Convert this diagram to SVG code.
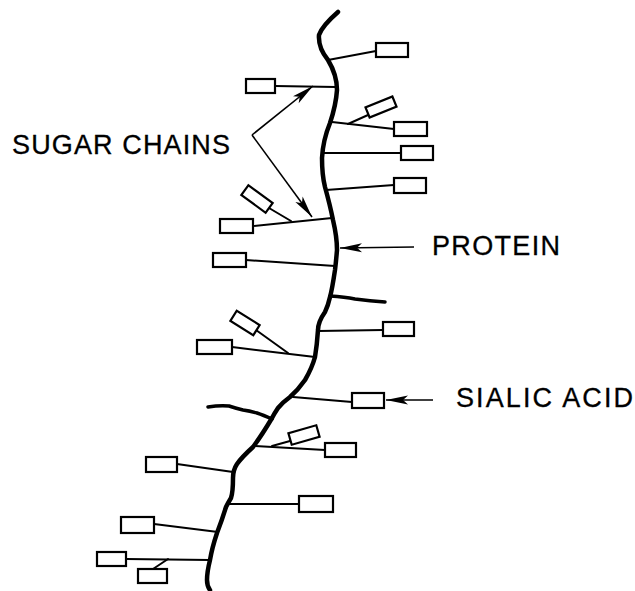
<svg xmlns="http://www.w3.org/2000/svg" width="635" height="591" viewBox="0 0 635 591">
<style>
.bb{fill:none;stroke:#000;stroke-width:4.5;stroke-linejoin:round;stroke-linecap:round}
.stub{fill:none;stroke:#000;stroke-width:3.5;stroke-linejoin:round;stroke-linecap:round}
.br{fill:none;stroke:#000;stroke-width:2;stroke-linecap:round}
.box{fill:#fff;stroke:#000;stroke-width:2.2}
.arr{fill:none;stroke:#000;stroke-width:1.6}
.lbl{font-family:"Liberation Sans",Arial,sans-serif;font-size:27px;fill:#000;stroke:#000;stroke-width:0.3}
</style>
<defs>
<marker id="ah" viewBox="-24 -6 26 12" markerWidth="26" markerHeight="12" refX="0" refY="0" markerUnits="userSpaceOnUse" orient="auto">
<path d="M0,0 L-22,-4.5 L-17,0 L-22,4.5 Z" fill="#000"/>
</marker>
</defs>
<rect width="635" height="591" fill="#fff"/>
<g id="protein">
<path class="bb" d="M338,12 Q322,26 319,35 Q318,48 328,60 Q337,75 337,90 Q336,105 330,123 Q323,140 322,158 Q322,175 325,187 Q330,205 333,220 Q337,237 337,250 Q336,262 335,270 Q332,290 330,297 Q328,306 325,312 Q318,322 318,330 Q317,345 315,357 Q312,368 305,380 Q298,390 290,397 Q283,402 278,408 Q274,414 272,418 Q262,435 253,447 Q242,457 237,464 Q233,470 233,478 Q233,492 231,498 Q228,503 226,507 Q222,520 217,533 Q212,548 210,560 Q207,572 207,580 Q207,586 210,590"/>
<path class="stub" d="M330,296 Q345,297 355,299 Q370,301 385,302"/>
<path class="stub" d="M272,419 Q263,415 257,413 Q250,411 243,410 Q235,408 229,406 Q220,405 208,407"/>
</g>
<g id="chain1"><line class="br" x1="328" y1="60" x2="376" y2="51"/><rect class="box" x="376" y="43" width="32" height="14"/></g>
<g id="chain2"><line class="br" x1="336" y1="87" x2="275" y2="86"/><rect class="box" x="246" y="79" width="29" height="14"/></g>
<g id="chain3"><line class="br" x1="332" y1="122" x2="394" y2="129"/><line class="br" x1="348" y1="124" x2="368" y2="115"/><rect class="box" x="394" y="122" width="33" height="14"/><rect class="box" x="-14.5" y="-5.5" width="29" height="11" transform="translate(381,107) rotate(-22)"/></g>
<g id="chain4"><line class="br" x1="322" y1="153" x2="401" y2="153"/><rect class="box" x="401" y="146" width="32" height="14"/></g>
<g id="chain5"><line class="br" x1="326" y1="190" x2="394" y2="185"/><rect class="box" x="394" y="178" width="32" height="15"/></g>
<g id="chain6"><line class="br" x1="332" y1="218" x2="253" y2="226"/><line class="br" x1="291" y1="221" x2="269" y2="208"/><rect class="box" x="220" y="219" width="33" height="14"/><rect class="box" x="-15" y="-6" width="30" height="12" transform="translate(257,199) rotate(36)"/></g>
<g id="chain7"><line class="br" x1="335" y1="266" x2="246" y2="260"/><rect class="box" x="213" y="253" width="33" height="14"/></g>
<g id="chain8"><line class="br" x1="318" y1="331" x2="383" y2="330"/><rect class="box" x="383" y="322" width="31" height="14"/></g>
<g id="chain9"><line class="br" x1="315" y1="357" x2="232" y2="347"/><line class="br" x1="288" y1="353" x2="256" y2="330"/><rect class="box" x="197" y="340" width="35" height="14"/><rect class="box" x="-13.5" y="-6" width="27" height="12" transform="translate(245,323) rotate(32)"/></g>
<g id="chain10"><line class="br" x1="293" y1="397" x2="352" y2="402"/><rect class="box" x="352" y="393" width="32" height="15"/></g>
<g id="chain11"><line class="br" x1="255" y1="446" x2="325" y2="450"/><line class="br" x1="272" y1="446" x2="290" y2="441"/><rect class="box" x="325" y="443" width="31" height="14"/><rect class="box" x="-14.5" y="-6" width="29" height="12" transform="translate(304,435) rotate(-16)"/></g>
<g id="chain12"><line class="br" x1="233" y1="472" x2="177" y2="464"/><rect class="box" x="146" y="457" width="31" height="15"/></g>
<g id="chain13"><line class="br" x1="228" y1="504" x2="299" y2="504"/><rect class="box" x="299" y="496" width="34" height="16"/></g>
<g id="chain14"><line class="br" x1="218" y1="532" x2="154" y2="524"/><rect class="box" x="121" y="517" width="33" height="16"/></g>
<g id="chain15"><line class="br" x1="210" y1="560" x2="126" y2="559"/><line class="br" x1="168" y1="559" x2="153" y2="569"/><rect class="box" x="97" y="552" width="29" height="14"/><rect class="box" x="138" y="569" width="29" height="14"/></g>
<g id="connectors">
<line class="arr" x1="252" y1="135" x2="313" y2="86" marker-end="url(#ah)"/>
<line class="arr" x1="252" y1="135" x2="312" y2="217" marker-end="url(#ah)"/>
<line class="arr" x1="414" y1="247" x2="340" y2="248" marker-end="url(#ah)"/>
<line class="arr" x1="433" y1="400" x2="386" y2="400" marker-end="url(#ah)"/>
</g>
<g id="labels">
<text class="lbl" x="12" y="154" textLength="218" lengthAdjust="spacing">SUGAR CHAINS</text>
<text class="lbl" x="432" y="255" textLength="128" lengthAdjust="spacing">PROTEIN</text>
<text class="lbl" x="456" y="407" textLength="177" lengthAdjust="spacing">SIALIC ACID</text>
</g>
</svg>
